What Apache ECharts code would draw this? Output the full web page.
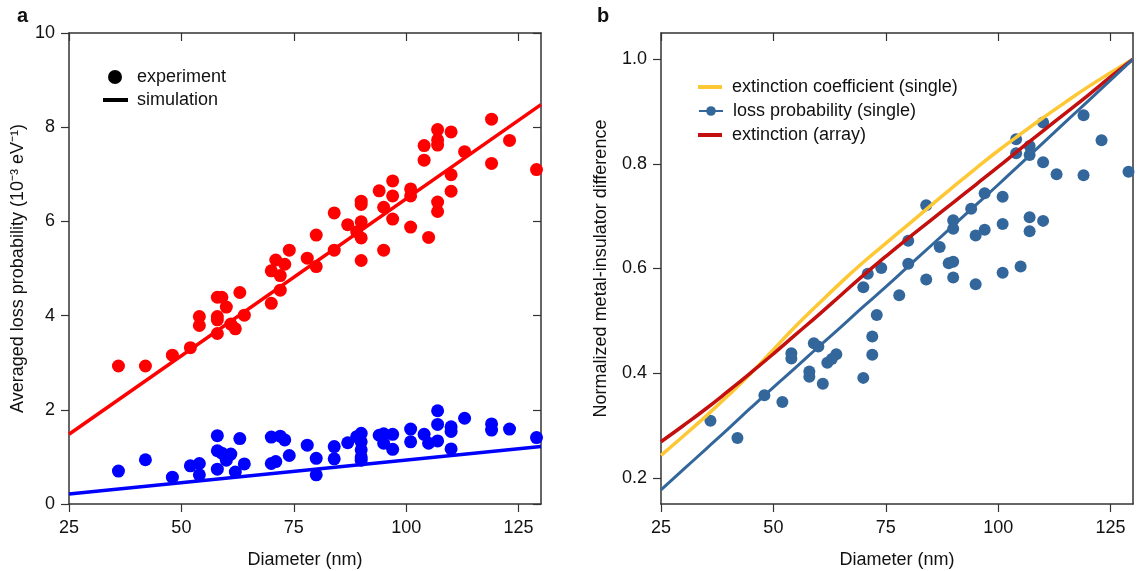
<!DOCTYPE html>
<html><head><meta charset="utf-8">
<script src="https://cdn.jsdelivr.net/npm/echarts@6/dist/echarts.min.js"></script>
<style>html,body{margin:0;padding:0;background:#fff}#c{width:1139px;height:571px}</style>
</head><body><div id="c"></div>
<script>
// Panel a: experiment points [diameter, value]
const redExp = [[36,2.93],[42,2.93],[48,3.16],[52,3.32],[54,3.79],[54,3.98],[58,3.62],[58,3.91],[58,3.98],[58,4.39],[59,4.39],[60,4.18],[61,3.82],[62,3.72],[63,4.49],[64,4.01],[70,4.26],[70,4.95],[71,5.18],[72,4.85],[72,4.54],[73,5.09],[74,5.39],[78,5.22],[80,5.71],[80,5.04],[84,6.18],[84,5.39],[87,5.93],[89,5.78],[90,6.43],[90,6.36],[90,5.99],[90,5.65],[90,5.17],[94,6.65],[95,6.30],[95,5.39],[97,6.86],[97,6.54],[97,6.05],[101,6.69],[101,6.54],[101,5.88],[104,7.61],[104,7.30],[105,5.66],[107,7.95],[107,7.73],[107,7.62],[107,6.41],[107,6.21],[110,7.90],[110,6.99],[110,6.64],[113,7.48],[119,8.17],[119,7.23],[123,7.72],[129,7.10]];
const blueExp = [[36,0.70],[42,0.94],[48,0.57],[52,0.81],[54,0.86],[54,0.62],[58,1.45],[58,1.13],[58,0.74],[59,1.08],[60,0.93],[61,1.06],[62,0.68],[63,1.39],[64,0.85],[70,1.42],[70,0.86],[71,0.90],[72,1.44],[73,1.36],[74,1.03],[78,1.25],[80,0.97],[80,0.62],[84,1.22],[84,0.96],[87,1.30],[89,1.43],[90,1.50],[90,1.32],[90,1.15],[90,1.00],[90,0.93],[94,1.46],[95,1.49],[95,1.29],[97,1.48],[97,1.16],[101,1.59],[101,1.32],[104,1.48],[105,1.29],[107,1.98],[107,1.69],[107,1.34],[110,1.64],[110,1.54],[110,1.17],[113,1.82],[119,1.70],[119,1.57],[123,1.59],[129,1.41]];
const redSim = [[25,1.48],[130,8.48]];
const blueSim = [[25,0.21],[130,1.22]];
// Panel b
const lossExp = [[36,0.309],[42,0.276],[48,0.358],[52,0.345],[54,0.438],[54,0.428],[58,0.403],[58,0.393],[59,0.457],[60,0.451],[61,0.380],[62,0.420],[63,0.427],[64,0.436],[70,0.391],[70,0.564],[71,0.590],[72,0.470],[72,0.435],[73,0.511],[74,0.601],[78,0.549],[80,0.653],[80,0.609],[84,0.721],[84,0.579],[87,0.641],[89,0.610],[90,0.613],[90,0.692],[90,0.676],[90,0.583],[94,0.714],[95,0.663],[95,0.570],[97,0.744],[97,0.674],[101,0.737],[101,0.685],[101,0.592],[104,0.847],[104,0.820],[105,0.604],[107,0.834],[107,0.817],[107,0.698],[107,0.671],[110,0.879],[110,0.803],[110,0.691],[113,0.780],[119,0.893],[119,0.778],[123,0.845],[129,0.785]];
const curveX = [25,30,35,40,45,50,55,60,65,70,75,80,85,90,95,100,105,110,115,120,125,130];
const extSingle = [0.243,0.280,0.318,0.358,0.400,0.445,0.490,0.532,0.573,0.612,0.648,0.684,0.720,0.756,0.791,0.825,0.857,0.888,0.918,0.947,0.974,1.000];
const extArray = [0.269,0.300,0.332,0.366,0.401,0.437,0.474,0.511,0.549,0.587,0.623,0.658,0.692,0.726,0.760,0.794,0.829,0.863,0.897,0.931,0.966,1.000];
const lossSingle = [0.177,0.216,0.255,0.294,0.334,0.373,0.411,0.450,0.488,0.527,0.565,0.604,0.643,0.682,0.721,0.760,0.800,0.840,0.880,0.920,0.960,1.000];
const xTicks = [25,50,75,100,125];
const yTicksB = [0.2,0.4,0.6,0.8,1.0];

const zip = (xs, ys) => xs.map((x, i) => [x, ys[i]]);
const FONT = 'Liberation Sans';
const AX = '#333';
const FS = 18;
const lbl = {color:'#111', fontSize:FS, fontFamily:FONT};
const nameStyle = {color:'#111', fontSize:FS, fontFamily:FONT};
const TL = 8;

function xBottom(gi) {
  return {gridIndex:gi, type:'value', min:25, max:130, position:'bottom',
    axisLine:{show:true, onZero:false, lineStyle:{color:AX, width:1.5}},
    axisTick:{show:true, length:TL, customValues:xTicks, lineStyle:{color:AX, width:1.2}},
    axisLabel:Object.assign({customValues:xTicks, margin:15}, lbl),
    splitLine:{show:false},
    name:'Diameter (nm)', nameLocation:'middle', nameGap:47, nameTextStyle:nameStyle};
}
function xTop(gi) {
  return {gridIndex:gi, type:'value', min:25, max:130, position:'top',
    axisLine:{show:true, onZero:false, lineStyle:{color:AX, width:1.5}},
    axisTick:{show:true, inside:true, length:TL, customValues:xTicks, lineStyle:{color:AX, width:1.2}},
    axisLabel:{show:false}, splitLine:{show:false}};
}
function leg(name, left, top, w, h, icon, padLeft) {
  const d = icon ? {name:name, icon:icon} : {name:name};
  return {left:left, top:top, padding:0, orient:'vertical', itemWidth:w, itemHeight:h,
    data:[d], selectedMode:false,
    textStyle:{color:'#111', fontSize:FS, fontFamily:FONT, padding:[0,0,0,padLeft||0]}};
}

const option = {
  animation:false,
  backgroundColor:'#fff',
  textStyle:{fontFamily:FONT},
  grid:[
    {left:69, top:33, width:472, height:471, outerBoundsMode:'none', containLabel:false},
    {left:661, top:33, width:472, height:471, outerBoundsMode:'none', containLabel:false}
  ],
  xAxis:[xBottom(0), xTop(0), xBottom(1), xTop(1)],
  yAxis:[
    {gridIndex:0, type:'value', min:0, max:10, interval:2, position:'left',
      axisLine:{show:true, onZero:false, lineStyle:{color:AX, width:1.5}},
      axisTick:{show:true, length:TL, lineStyle:{color:AX, width:1.2}},
      axisLabel:Object.assign({margin:14}, lbl), splitLine:{show:false},
      name:'Averaged loss probability (10⁻³ eV⁻¹)', nameLocation:'middle', nameGap:42, nameTextStyle:nameStyle},
    {gridIndex:0, type:'value', min:0, max:10, interval:2, position:'right',
      axisLine:{show:true, onZero:false, lineStyle:{color:AX, width:1.5}},
      axisTick:{show:true, inside:true, length:TL, lineStyle:{color:AX, width:1.2}},
      axisLabel:{show:false}, splitLine:{show:false}},
    {gridIndex:1, type:'value', min:0.15, max:1.05, position:'left',
      axisLine:{show:true, onZero:false, lineStyle:{color:AX, width:1.5}},
      axisTick:{show:true, length:TL, customValues:yTicksB, lineStyle:{color:AX, width:1.2}},
      axisLabel:Object.assign({customValues:yTicksB, margin:14, formatter:v=>Number(v).toFixed(1)}, lbl),
      splitLine:{show:false},
      name:'Normalized metal-insulator difference', nameLocation:'middle', nameGap:51, nameTextStyle:nameStyle},
    {gridIndex:1, type:'value', min:0.15, max:1.05, position:'right',
      axisLine:{show:true, onZero:false, lineStyle:{color:AX, width:1.5}},
      axisTick:{show:false}, axisLabel:{show:false}, splitLine:{show:false}}
  ],
  legend:[
    leg('experiment', 108, 68, 24, 14, 'circle', 5),
    leg('simulation', 103, 91, 25, 4, 'rect', 4),
    leg('extinction coefficient (single)', 698, 78, 24, 4, 'rect', 5),
    leg('loss probability (single)', 698, 102, 24, 12, null, 5),
    leg('extinction (array)', 698, 126, 24, 4, 'rect', 5)
  ],
  graphic:[
    {type:'text', left:17, top:6, style:{text:'a', font:'bold 20px "Liberation Sans"', fill:'#111'}},
    {type:'text', left:597, top:6, style:{text:'b', font:'bold 20px "Liberation Sans"', fill:'#111'}}
  ],
  series:[
    {name:'experiment', type:'scatter', xAxisIndex:0, yAxisIndex:0, data:[], symbolSize:14, itemStyle:{color:'#000', opacity:1}},
    {name:'simulation', type:'line', xAxisIndex:0, yAxisIndex:0, data:[], symbol:'none', lineStyle:{color:'#000', width:4}, itemStyle:{color:'#000'}},
    {name:'redSim', type:'line', xAxisIndex:0, yAxisIndex:0, data:redSim, symbol:'none', lineStyle:{color:'#ff0000', width:3.5}},
    {name:'blueSim', type:'line', xAxisIndex:0, yAxisIndex:0, data:blueSim, symbol:'none', lineStyle:{color:'#0000ff', width:3.5}},
    {name:'redExp', type:'scatter', xAxisIndex:0, yAxisIndex:0, data:redExp, symbolSize:13, itemStyle:{color:'#ff0000', opacity:1}},
    {name:'blueExp', type:'scatter', xAxisIndex:0, yAxisIndex:0, data:blueExp, symbolSize:13, itemStyle:{color:'#0000ff', opacity:1}},

    {name:'extinction coefficient (single)', type:'line', xAxisIndex:2, yAxisIndex:2, data:zip(curveX, extSingle), smooth:true, symbol:'none', lineStyle:{color:'#fec734', width:3.5}, itemStyle:{color:'#fec734'}},
    {name:'extinction (array)', type:'line', xAxisIndex:2, yAxisIndex:2, data:zip(curveX, extArray), smooth:true, symbol:'none', lineStyle:{color:'#c40f0f', width:3.5}, itemStyle:{color:'#c40f0f'}},
    {name:'loss probability (single)', type:'line', xAxisIndex:2, yAxisIndex:2, data:zip(curveX, lossSingle), smooth:true, symbol:'circle', symbolSize:12, showSymbol:false, lineStyle:{color:'#33679b', width:3}, itemStyle:{color:'#33679b'}},
    {name:'lossExp', type:'scatter', xAxisIndex:2, yAxisIndex:2, data:lossExp, symbolSize:12, itemStyle:{color:'#33679b', opacity:1}}
  ]
};
const chart = echarts.init(document.getElementById('c'), null, {renderer:'canvas'});
chart.setOption(option);
</script></body></html>
